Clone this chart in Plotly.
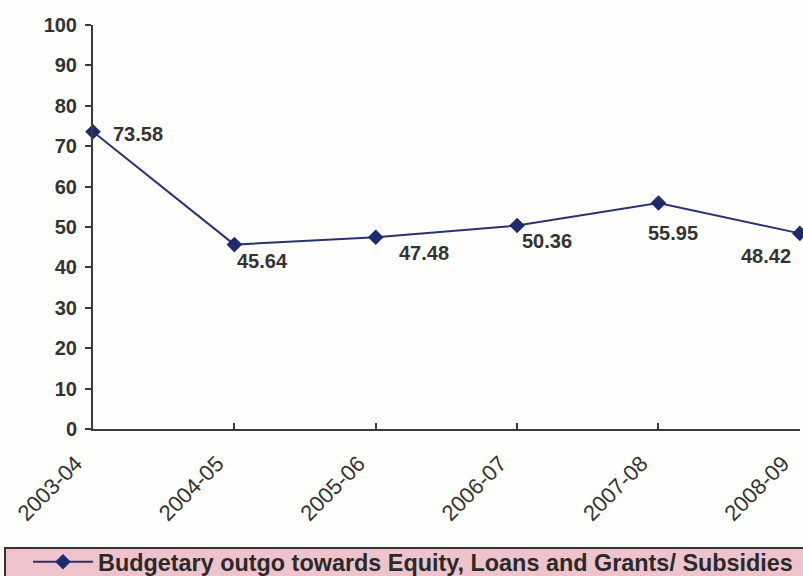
import plotly.graph_objects as go

years = ["2003-04", "2004-05", "2005-06", "2006-07", "2007-08", "2008-09"]
outgo = [73.58, 45.64, 47.48, 50.36, 55.95, 48.42]
y_ticks = [0, 10, 20, 30, 40, 50, 60, 70, 80, 90, 100]

# label offsets (pixels) relative to each point
label_dx = [45, 28, 48, 30, 15, -34]
label_dy = [-2, -16, -16, -15, -30, -23]

line_col = "#2A3270"
axis_col = "#3A3A3A"
text_col = "#333333"

fig = go.Figure()
fig.add_trace(go.Scatter(
    x=list(range(len(years))), y=outgo,
    mode="lines+markers",
    name="Budgetary outgo towards Equity, Loans and Grants/ Subsidies",
    line=dict(color=line_col, width=2),
    marker=dict(symbol="diamond", size=12, color="#1E2A6E"),
    cliponaxis=False,
))

for i, v in enumerate(outgo):
    fig.add_annotation(
        x=i, y=v, text=f"{v:.2f}", showarrow=False,
        xshift=label_dx[i], yshift=label_dy[i],
        xanchor="center", yanchor="middle",
        font=dict(family="Liberation Sans, Arial", size=20, color=text_col, weight="bold"),
    )

# pink legend panel along the bottom
fig.add_shape(
    type="rect", xref="paper", yref="paper",
    x0=(5 - 93) / 707, x1=(830 - 93) / 707,
    y0=(429 - 590) / 404, y1=(429 - 548) / 404,
    fillcolor="#EFC3CC", line=dict(color="#333333", width=2), layer="below",
)

fig.update_layout(
    width=803, height=576,
    margin=dict(l=93, r=3, t=25, b=147, autoexpand=False),
    paper_bgcolor="#FEFEFC", plot_bgcolor="rgba(0,0,0,0)",
    showlegend=True,
    legend=dict(
        x=(28 - 93) / 707, xanchor="left", y=(429 - 540) / 404, yanchor="top",
        bgcolor="rgba(0,0,0,0)", borderwidth=0,
        font=dict(family="Liberation Sans, Arial", size=23.4, color="#2A2A2A", weight="bold"),
        itemwidth=60,
    ),
    font=dict(family="Liberation Sans, Arial", color=text_col),
)

fig.update_xaxes(
    range=[0, 5.001], tickmode="array", tickvals=list(range(len(years))), ticktext=years,
    tickangle=-45, ticks="inside", ticklen=6, tickwidth=2, tickcolor=axis_col,
    showline=True, linecolor=axis_col, linewidth=2, showgrid=False, zeroline=False,
    tickfont=dict(size=22, color=text_col), ticklabelstandoff=11, ticklabelshift=-17,
    automargin=False, ticklabeloverflow="allow",
)
fig.update_yaxes(
    range=[0, 100], tickmode="array", tickvals=y_ticks,
    ticks="outside", ticklen=6, tickwidth=2, tickcolor=axis_col,
    showline=True, linecolor=axis_col, linewidth=2, showgrid=False, zeroline=False,
    tickfont=dict(size=20, color=text_col, weight="bold"), ticklabelstandoff=4,
    automargin=False,
)

fig.write_html("out.html")
